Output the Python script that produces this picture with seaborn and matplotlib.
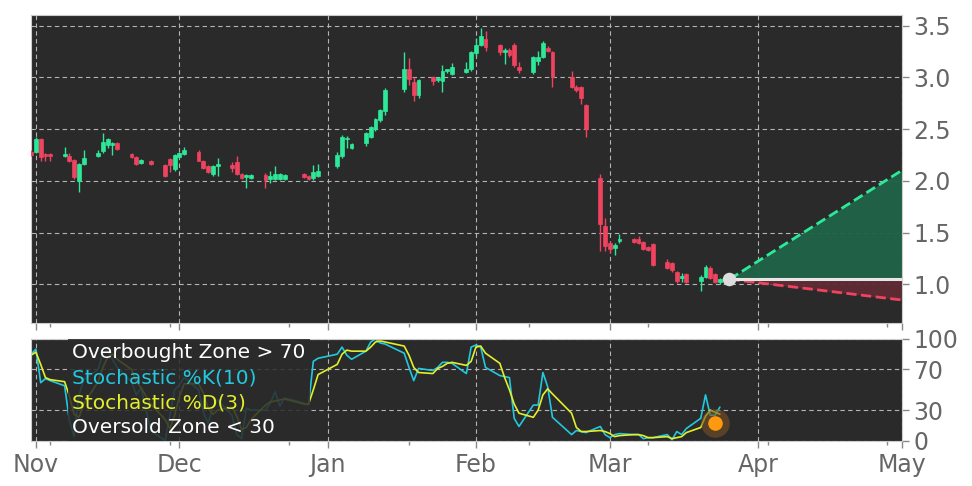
import numpy as np
import pandas as pd
import matplotlib
matplotlib.use("Agg")
import matplotlib.pyplot as plt
import matplotlib.dates as mdates
from matplotlib.ticker import FixedLocator
from matplotlib.lines import Line2D
import seaborn as sns

# trading days shown on the chart
holidays = ["2022-11-24", "2022-12-26", "2023-01-02", "2023-01-16", "2023-02-20"]
days = pd.bdate_range("2022-10-31", "2023-03-24")
days = days[~days.isin(pd.to_datetime(holidays))]

opens = [2.28, 2.28, 2.40, 2.26, 2.26, 2.245, 2.24, 2.20, 2.00, 2.16,
         2.24, 2.29, 2.35, 2.35, 2.37, 2.26, 2.23, 2.17, 2.19, 2.15,
         2.21, 2.11, 2.23, 2.26, 2.28, 2.195, 2.14, 2.07, 2.14, 2.15,
         2.18, 2.07, 2.035, 2.03, 2.06, 2.02, 2.02, 2.02, 2.02, 2.07,
         2.05, 2.03, 2.05, 2.14, 2.24, 2.40, 2.32, 2.37, 2.42, 2.50,
         2.59, 2.67, 2.89, 3.08, 2.95, 2.83, 3.00, 2.97, 2.96, 3.06,
         3.03, 3.05, 3.08, 3.23, 3.31, 3.37, 3.31, 3.24, 3.26, 3.31,
         3.10, 3.05, 3.16, 3.20, 3.28, 3.24, 3.00, 2.91, 2.91, 2.73,
         2.03, 1.56, 1.40, 1.35, 1.42, 1.44, 1.44, 1.41, 1.36, 1.39,
         1.22, 1.21, 1.12, 1.06, 1.10, 1.03, 1.07, 1.16, 1.10, 1.02]
highs = [2.30, 2.42, 2.41, 2.27, 2.27, 2.33, 2.27, 2.21, 2.17, 2.30,
         2.30, 2.46, 2.41, 2.38, 2.38, 2.27, 2.24, 2.21, 2.20, 2.16,
         2.22, 2.26, 2.28, 2.33, 2.30, 2.20, 2.15, 2.15, 2.22, 2.18,
         2.24, 2.08, 2.07, 2.07, 2.08, 2.10, 2.14, 2.08, 2.07, 2.08,
         2.06, 2.15, 2.16, 2.28, 2.44, 2.43, 2.37, 2.47, 2.53, 2.61,
         2.69, 2.90, 3.24, 3.19, 3.00, 2.98, 3.01, 3.00, 3.12, 3.08,
         3.14, 3.15, 3.25, 3.38, 3.48, 3.45, 3.32, 3.28, 3.28, 3.33,
         3.15, 3.21, 3.25, 3.35, 3.30, 3.25, 3.06, 2.93, 2.92, 2.74,
         2.07, 1.64, 1.42, 1.40, 1.49, 1.45, 1.47, 1.42, 1.37, 1.40,
         1.25, 1.22, 1.13, 1.11, 1.11, 1.09, 1.19, 1.18, 1.11, 1.06]
lows = [2.24, 2.27, 2.19, 2.19, 2.19, 2.23, 2.18, 2.02, 1.89, 2.15,
        2.23, 2.27, 2.32, 2.25, 2.30, 2.22, 2.15, 2.16, 2.15, 2.04,
        2.09, 2.10, 2.22, 2.25, 2.19, 2.11, 2.08, 2.05, 2.05, 2.09,
        2.06, 2.02, 1.93, 2.02, 1.93, 1.98, 2.01, 2.01, 2.01, 2.03,
        2.01, 2.01, 2.04, 2.12, 2.22, 2.32, 2.31, 2.34, 2.41, 2.48,
        2.57, 2.64, 2.86, 2.93, 2.77, 2.80, 2.93, 2.95, 2.86, 3.04,
        3.02, 3.04, 3.06, 3.21, 3.30, 3.25, 3.22, 3.13, 3.20, 3.10,
        3.04, 3.03, 3.12, 3.19, 3.24, 2.91, 2.90, 2.86, 2.74, 2.42,
        1.32, 1.32, 1.30, 1.28, 1.40, 1.40, 1.39, 1.33, 1.32, 1.18,
        1.15, 1.12, 1.01, 1.02, 1.01, 0.94, 1.06, 1.05, 1.01, 1.00]
closes = [2.25, 2.40, 2.23, 2.24, 2.24, 2.26, 2.19, 2.04, 2.16, 2.22,
          2.27, 2.38, 2.40, 2.36, 2.31, 2.23, 2.16, 2.20, 2.16, 2.05,
          2.15, 2.25, 2.27, 2.30, 2.195, 2.12, 2.09, 2.14, 2.16, 2.12,
          2.07, 2.03, 2.06, 2.06, 2.01, 2.05, 2.07, 2.07, 2.06, 2.04,
          2.02, 2.09, 2.10, 2.25, 2.42, 2.41, 2.36, 2.46, 2.52, 2.60,
          2.68, 2.88, 3.08, 2.98, 2.83, 2.97, 2.96, 2.99, 3.06, 3.08,
          3.10, 3.08, 3.24, 3.31, 3.40, 3.29, 3.24, 3.26, 3.22, 3.12,
          3.07, 3.20, 3.20, 3.33, 3.25, 3.00, 2.91, 2.88, 2.80, 2.50,
          1.58, 1.375, 1.34, 1.38, 1.44, 1.41, 1.40, 1.34, 1.33, 1.19,
          1.16, 1.14, 1.03, 1.08, 1.02, 1.07, 1.17, 1.06, 1.02, 1.05]

stoch_k = [85, 90, 57, 61, 59, 54, 20, 4, 45, 60,
           70, 86, 89, 80, 72, 58, 45, 52, 10, 0,
           25, 50, 55, 62, 50, 28, 17, 33, 40, 25,
           6, 2, 32, 30, 30, 37, 48, 34, 42, 37,
           35, 78, 81, 85, 92, 84, 80, 88, 97, 100,
           96, 95, 86, 72, 59, 71, 69, 72, 77, 77,
           76, 66, 92, 94, 92, 72, 64, 63, 62, 22,
           14, 35, 35, 67, 53, 23, 6, 10, 9, 8,
           14, 6, 3, 6, 7, 6, 6, 2, 3, 3,
           6, 1, 9, 6, 12, 22, 45, 25, 25, 33]
stoch_d = [84, 87, 75, 62, 60, 58, 44, 26, 23, 36,
           58, 72, 82, 85, 80, 70, 58, 52, 36, 21,
           12, 25, 43, 56, 56, 47, 32, 26, 30, 33,
           24, 11, 13, 21, 35, 38, 39, 40, 41, 36,
           36, 50, 65, 75, 85, 89, 88, 88, 92, 97,
           98, 97, 93, 84, 72, 67, 66, 71, 73, 76,
           77, 74, 78, 92, 93, 86, 76, 62, 50, 36,
           27, 23, 30, 45, 51, 46, 27, 13, 9, 9,
           10, 9, 7, 4, 5, 6, 6, 5, 3, 3,
           4, 2, 3, 4, 8, 13, 24, 30, 28, 26]

# projection cone
proj_start = pd.Timestamp("2023-03-26")
proj_end = pd.Timestamp("2023-05-01")
last_price = 1.05
upper_target = 2.10
lower_target = 0.85

# oversold signal marker
signal_date = pd.Timestamp("2023-03-23")
signal_value = 17

GREEN = "#2ee89a"
RED = "#f0435f"
CYAN = "#22c8e0"
YELLOW = "#e2ef2a"
BG = "#2a2a2a"

sns.set_style("dark", rc={"axes.facecolor": BG, "figure.facecolor": "white",
                          "axes.edgecolor": "#cccccc"})
plt.rcParams["font.family"] = ["DejaVu Sans"]

df = pd.DataFrame({"date": days, "open": opens, "high": highs,
                   "low": lows, "close": closes})
stoch = pd.DataFrame({"date": days, "k": stoch_k, "d": stoch_d})

fig = plt.figure(figsize=(9.72, 4.86), dpi=100)
ax = fig.add_axes([0.0316, 0.3348, 0.896, 0.634])
ax2 = fig.add_axes([0.0316, 0.0932, 0.896, 0.2094])

# candles
up = df["close"] >= df["open"]
colors = np.where(up, GREEN, RED)
ax.vlines(df["date"], df["low"], df["high"], colors=colors, linewidth=1, zorder=3)
body = (df["close"] - df["open"]).abs().clip(lower=0.012)
ax.bar(df["date"], body, bottom=np.minimum(df["open"], df["close"]),
       width=0.8, color=colors, edgecolor=colors, linewidth=0.5, zorder=4)

# projection
px = [proj_start, proj_end]
ax.fill_between(px, [last_price, last_price], [last_price, upper_target],
                color="#1f6448", alpha=0.95, lw=0, zorder=2)
ax.fill_between(px, [last_price, last_price], [last_price, lower_target],
                color="#5e2a33", alpha=0.95, lw=0, zorder=2)
ax.plot(px, [last_price, upper_target], ls="--", color=GREEN, lw=2, zorder=3)
ax.plot(px, [last_price, lower_target], ls="--", color=RED, lw=2, zorder=3)
ax.plot(px, [last_price, last_price], color="#e6e6e6", lw=2.2, zorder=3)
ax.scatter([proj_start], [last_price], s=95, color="#dcdcdc", lw=0, zorder=6)

# stochastic
sns.lineplot(data=stoch, x="date", y="k", ax=ax2, color=CYAN, lw=1.2)
sns.lineplot(data=stoch, x="date", y="d", ax=ax2, color=YELLOW, lw=1.2)
ax2.scatter([signal_date], [signal_value], s=420, color="#7a5226", alpha=0.6, lw=0, zorder=5)
ax2.scatter([signal_date], [signal_value], s=110, color="#ff9a10", lw=0, zorder=6)

minor_days = mdates.date2num(pd.date_range("2022-11-04", periods=8, freq="25D"))
for a in (ax, ax2):
    a.set_xlim(pd.Timestamp("2022-10-30 22:00"), proj_end)
    a.xaxis.set_major_locator(mdates.MonthLocator())
    a.xaxis.set_major_formatter(mdates.DateFormatter("%b"))
    a.xaxis.set_minor_locator(FixedLocator(minor_days))
    a.yaxis.tick_right()
    a.grid(True, which="major", color="#b4b4b4", linestyle=(0, (4, 3)), linewidth=0.8)
    a.tick_params(axis="both", which="major", labelsize=17, labelcolor="#666666",
                  color="#888888", length=5, width=1,
                  bottom=True, right=True, left=False)
    a.tick_params(axis="x", which="minor", color="#888888", length=3, width=1, bottom=True)
    a.set_xlabel("")
    a.set_ylabel("")
    for s in a.spines.values():
        s.set_color("#cccccc")

ax.set_ylim(0.625, 3.6)
ax.set_yticks([1.0, 1.5, 2.0, 2.5, 3.0, 3.5])
ax.tick_params(axis="x", labelbottom=False)

ax2.set_ylim(0, 100)
ax2.set_yticks([0, 30, 70, 100])

handles = [Line2D([], [], color="none") for _ in range(4)]
labels = ["Overbought Zone > 70", "Stochastic %K(10)", "Stochastic %D(3)", "Oversold Zone < 30"]
ax2.legend(handles, labels, loc="upper left", bbox_to_anchor=(0.043, 1.0),
           handlelength=0, handletextpad=0, fontsize=14.5, labelspacing=0.3,
           frameon=True, facecolor=BG, framealpha=0.85, edgecolor="none",
           fancybox=False, borderaxespad=0, borderpad=0.2,
           labelcolor=["white", CYAN, YELLOW, "white"])

fig.savefig("out.png", dpi=100)
